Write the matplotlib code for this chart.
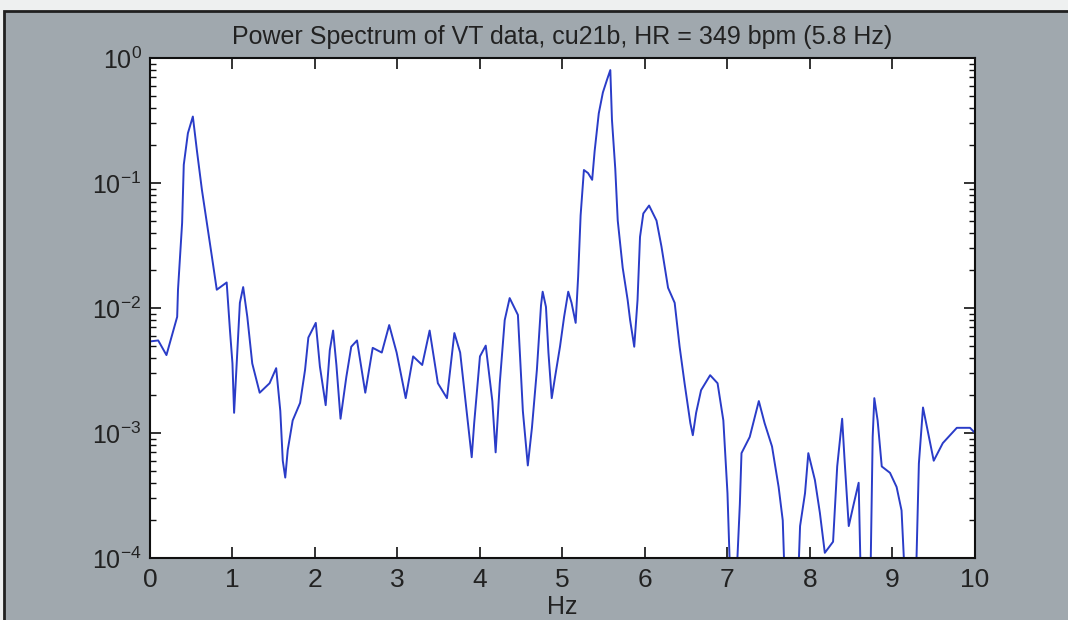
import numpy as np
import matplotlib
matplotlib.use("Agg")
import matplotlib.pyplot as plt
from matplotlib.patches import Rectangle
from matplotlib.ticker import LogLocator, FixedLocator

plt.rcParams['font.family'] = ['Liberation Sans Narrow', 'Liberation Sans', 'DejaVu Sans']
plt.rcParams['mathtext.fontset'] = 'custom'
plt.rcParams['mathtext.rm'] = 'Liberation Sans'

# Power spectrum vertices (Hz, power)
freq = [0.00, 0.10, 0.20, 0.33, 0.34, 0.39, 0.41, 0.46, 0.52, 0.57, 0.63, 0.69,
        0.75, 0.81, 0.93, 0.97, 1.00, 1.02, 1.05, 1.09, 1.13, 1.18, 1.24, 1.33,
        1.45, 1.53, 1.58, 1.61, 1.64, 1.67, 1.73, 1.82, 1.88, 1.92, 2.01, 2.06,
        2.13, 2.18, 2.22, 2.26, 2.31, 2.38, 2.44, 2.51, 2.61, 2.70, 2.81, 2.90,
        2.99, 3.10, 3.19, 3.30, 3.39, 3.49, 3.60, 3.69, 3.76, 3.84, 3.90, 3.93,
        4.00, 4.07, 4.15, 4.19, 4.24, 4.30, 4.36, 4.46, 4.52, 4.58, 4.63, 4.69,
        4.74, 4.76, 4.80, 4.83, 4.87, 4.91, 4.97, 5.02, 5.07, 5.11, 5.16, 5.19,
        5.22, 5.26, 5.31, 5.36, 5.39, 5.44, 5.49, 5.54, 5.58, 5.60, 5.64, 5.67,
        5.73, 5.79, 5.82, 5.87, 5.91, 5.94, 5.98, 6.05, 6.14, 6.20, 6.28, 6.36,
        6.42, 6.48, 6.55, 6.58, 6.62, 6.68, 6.79, 6.88, 6.95, 7.00, 7.04, 7.10,
        7.15, 7.17, 7.27, 7.38, 7.45, 7.54, 7.62, 7.67, 7.70, 7.85, 7.88, 7.94,
        7.98, 8.06, 8.12, 8.18, 8.28, 8.33, 8.39, 8.42, 8.47, 8.53, 8.59, 8.62,
        8.73, 8.76, 8.78, 8.82, 8.87, 8.97, 9.05, 9.11, 9.16, 9.28, 9.32, 9.37,
        9.42, 9.50, 9.61, 9.78, 9.94, 10.00]
power = [5.4e-3, 5.5e-3, 4.2e-3, 8.5e-3, 1.4e-2, 4.8e-2, 0.14, 0.25, 0.34, 0.18, 0.088, 0.048,
         0.026, 0.014, 0.016, 6.6e-3, 3.6e-3, 1.45e-3, 3.5e-3, 0.011, 0.0147, 8.5e-3, 3.6e-3, 2.1e-3,
         2.5e-3, 3.3e-3, 1.5e-3, 6e-4, 4.4e-4, 7.3e-4, 1.26e-3, 1.74e-3, 3.2e-3, 5.8e-3, 7.6e-3, 3.4e-3,
         1.67e-3, 4.6e-3, 6.6e-3, 3.5e-3, 1.3e-3, 2.8e-3, 4.9e-3, 5.5e-3, 2.1e-3, 4.8e-3, 4.4e-3, 7.3e-3,
         4.4e-3, 1.9e-3, 4.1e-3, 3.5e-3, 6.6e-3, 2.5e-3, 1.9e-3, 6.3e-3, 4.4e-3, 1.45e-3, 6.4e-4, 1.2e-3,
         4.1e-3, 5e-3, 1.8e-3, 7e-4, 2.5e-3, 8e-3, 0.012, 8.8e-3, 1.5e-3, 5.5e-4, 1.1e-3, 3.2e-3,
         0.0105, 0.0135, 0.0102, 4.4e-3, 1.9e-3, 2.8e-3, 4.9e-3, 8.5e-3, 0.0135, 0.011, 7.6e-3, 0.0178,
         0.055, 0.127, 0.12, 0.106, 0.18, 0.36, 0.53, 0.67, 0.80, 0.32, 0.13, 0.05,
         0.021, 0.0116, 8e-3, 4.9e-3, 0.0116, 0.037, 0.057, 0.066, 0.05, 0.031, 0.0145, 0.011,
         4.9e-3, 2.5e-3, 1.2e-3, 9.6e-4, 1.45e-3, 2.2e-3, 2.9e-3, 2.5e-3, 1.26e-3, 3.3e-4, 5e-5, 5e-5,
         2.7e-4, 6.9e-4, 9.3e-4, 1.8e-3, 1.2e-3, 7.8e-4, 3.7e-4, 2e-4, 5e-5, 5e-5, 1.8e-4, 3.3e-4,
         6.9e-4, 4.2e-4, 2.3e-4, 1.1e-4, 1.35e-4, 5.4e-4, 1.3e-3, 6e-4, 1.8e-4, 2.7e-4, 4e-4, 5e-5,
         5e-5, 9.3e-4, 1.9e-3, 1.26e-3, 5.4e-4, 4.8e-4, 3.7e-4, 2.4e-4, 5e-5, 5e-5, 5.7e-4, 1.6e-3,
         1.1e-3, 6e-4, 8.3e-4, 1.1e-3, 1.1e-3, 1.0e-3]

title = "Power Spectrum of VT data, cu21b, HR = 349 bpm (5.8 Hz)"
xticks = np.arange(0, 11)

fig = plt.figure(figsize=(10.68, 6.2), dpi=100, facecolor='#eef0f0')
# matlab style gray window with a dark frame, kept behind the axes
frame = Rectangle((0.004, -0.01), 1.0, 0.993, transform=fig.transFigure,
                  facecolor='#a0a8ae', edgecolor='#202020', linewidth=2, zorder=-10)
fig.patches.append(frame)

ax = fig.add_axes([0.1404, 0.1, 0.7725, 0.8065])
ax.set_zorder(5)
ax.plot(freq, power, color='#2a3cc8', linewidth=1.4)
ax.set_yscale('log')
ax.set_xlim(0, 10)
ax.set_ylim(1e-4, 1)
ax.xaxis.set_major_locator(FixedLocator(xticks))
ax.yaxis.set_major_locator(LogLocator(base=10, numticks=10))
ax.yaxis.set_minor_locator(LogLocator(base=10, subs=np.arange(2, 10), numticks=10))
ax.tick_params(which='both', direction='in', top=True, right=True, colors='#101010',
               labelcolor='#222222')
ax.tick_params(axis='x', labelsize=19, pad=7)
ax.tick_params(axis='y', labelsize=18, pad=6)
ax.tick_params(which='major', length=8, width=1.2)
ax.tick_params(which='minor', length=4, width=1.0)
for s in ax.spines.values():
    s.set_linewidth(1.5)
    s.set_color('#101010')
ax.set_title(title, fontsize=18, color='#222222', pad=10)
ax.set_xlabel("Hz", fontsize=18, color='#222222', labelpad=2)

fig.savefig('out.png', dpi=100, facecolor=fig.get_facecolor())
